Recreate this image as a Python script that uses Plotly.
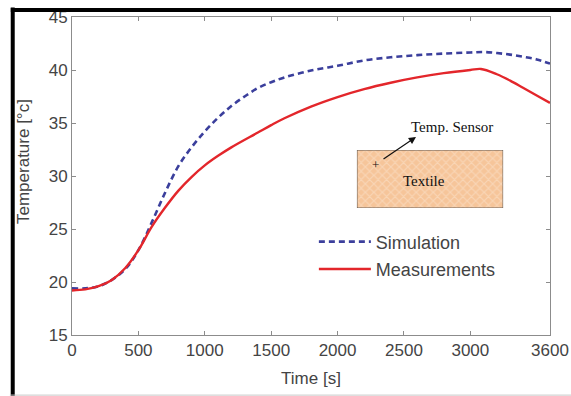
import plotly.graph_objects as go

# ---- data ----
time_meas = [0, 100, 200, 300, 400, 500, 600, 700, 800, 900, 1000, 1100, 1200, 1400, 1500, 1600,
             1800, 2000, 2200, 2400, 2600, 2800, 3000, 3080, 3200, 3300, 3400, 3500, 3600]
temp_meas = [19.2, 19.3, 19.6, 20.2, 21.3, 23.0, 25.2, 27.0, 28.6, 29.9, 31.0, 31.9, 32.7, 34.1, 34.8, 35.45,
             36.55, 37.45, 38.2, 38.8, 39.3, 39.7, 40.0, 40.1, 39.6, 39.0, 38.3, 37.6, 36.9]

time_sim = [0, 100, 200, 300, 400, 500, 600, 700, 800, 900, 1000, 1100, 1200, 1300, 1400, 1500, 1600,
            1800, 2000, 2200, 2400, 2600, 2800, 3000, 3100, 3200, 3300, 3400, 3500, 3600]
temp_sim = [19.4, 19.4, 19.6, 20.2, 21.2, 23.0, 25.6, 28.4, 30.9, 32.7, 34.2, 35.5, 36.6, 37.5, 38.3, 38.85, 39.3,
            39.95, 40.4, 40.9, 41.2, 41.4, 41.55, 41.65, 41.7, 41.6, 41.45, 41.25, 41.0, 40.6]

x_ticks = [0, 500, 1000, 1500, 2000, 2500, 3000, 3600]
y_ticks = [15, 20, 25, 30, 35, 40, 45]

sans = "Liberation Sans, Arial, sans-serif"
serif = "Liberation Serif, Times New Roman, serif"

fig = go.Figure()
fig.add_trace(go.Scatter(x=time_sim, y=temp_sim, mode="lines", name="Simulation",
                         legendgroup="a",
                         line=dict(color="#3b3f9c", width=2.6, dash="6px,4px"),
                         line_shape="spline"))
fig.add_trace(go.Scatter(x=time_meas, y=temp_meas, mode="lines", name="Measurements",
                         legendgroup="b",
                         line=dict(color="#e3262b", width=2.4),
                         line_shape="spline"))

# textile inset drawn on an overlay axis spanning the box region
fig.add_trace(go.Scatter(x=[0, 1, 1, 0, 0], y=[0, 0, 1, 1, 0], xaxis="x2", yaxis="y2",
                         mode="lines", fill="toself", showlegend=False, hoverinfo="skip",
                         line=dict(color="#444444", width=1),
                         fillcolor="#f6c59a",
                         fillpattern=dict(shape="x", bgcolor="#f6c59a", fgcolor="#fbe6d2",
                                          size=6, solidity=0.35)))

axis_common = dict(showline=True, linecolor="#8c8c8c", linewidth=1, mirror="ticks",
                   ticks="inside", ticklen=4, tickcolor="#8c8c8c", showgrid=False, zeroline=False,
                   automargin=False,
                   tickfont=dict(family=sans, size=17, color="#444444"))

fig.update_layout(
    width=571, height=396,
    margin=dict(l=72, r=21, t=17, b=61),
    paper_bgcolor="white", plot_bgcolor="white",
    xaxis=dict(range=[0, 3600], tickvals=x_ticks, ticktext=[str(v) for v in x_ticks],
               title=dict(text="Time [s]", standoff=12,
                          font=dict(family=sans, size=17, color="#444444")),
               **axis_common),
    yaxis=dict(range=[15, 45], tickvals=y_ticks, ticktext=[str(v) for v in y_ticks],
               **axis_common),
    xaxis2=dict(domain=[0.596, 0.902], range=[0, 1], visible=False, anchor="y2", fixedrange=True),
    yaxis2=dict(domain=[0.399, 0.582], range=[0, 1], visible=False, anchor="x2", fixedrange=True),
    legend=dict(x=0.506, y=0.351, xanchor="left", yanchor="top", bgcolor="rgba(0,0,0,0)",
                borderwidth=0, tracegroupgap=1, itemwidth=52,
                font=dict(family=sans, size=18, color="#444444")),
    showlegend=True,
)

# y-axis title
fig.add_annotation(x=-0.1025, y=0.544, xref="paper", yref="paper", text="Temperature [°c]",
                   textangle=-90, showarrow=False, xanchor="center", yanchor="middle",
                   font=dict(family=sans, size=17, color="#444444"))

fig.add_annotation(x=0.7197, y=0.6226, xref="paper", yref="paper", text="",
                   showarrow=True, ax=-34, ay=23, arrowhead=2, arrowsize=1.2, arrowwidth=1.2,
                   arrowcolor="#111111")
fig.add_annotation(x=0.795, y=0.653, xref="paper", yref="paper", text="Temp. Sensor",
                   xanchor="center", yanchor="middle",
                   showarrow=False, font=dict(family=serif, size=15, color="#111111"))
fig.add_annotation(x=0.634, y=0.535, xref="paper", yref="paper", text="+",
                   xanchor="center", yanchor="middle",
                   showarrow=False, font=dict(family=serif, size=13, color="#111111"))
fig.add_annotation(x=0.736, y=0.485, xref="paper", yref="paper", text="Textile",
                   xanchor="center", yanchor="middle",
                   showarrow=False, font=dict(family=serif, size=15, color="#111111"))

# picture frame
fig.add_shape(type="line", xref="paper", yref="paper", x0=-0.124, x1=-0.124, y0=-0.2, y1=1.03,
              line=dict(color="black", width=4))
fig.add_shape(type="line", xref="paper", yref="paper", x0=-0.128, x1=1.06, y0=1.022, y1=1.022,
              line=dict(color="black", width=4))
fig.add_shape(type="line", xref="paper", yref="paper", x0=-0.13, x1=1.06, y0=-0.189, y1=-0.189,
              line=dict(color="#c8c8c8", width=1))

fig.write_html("out.html", config={"displayModeBar": False},
               post_script="document.body.style.margin='0';document.body.style.overflow='hidden';")
